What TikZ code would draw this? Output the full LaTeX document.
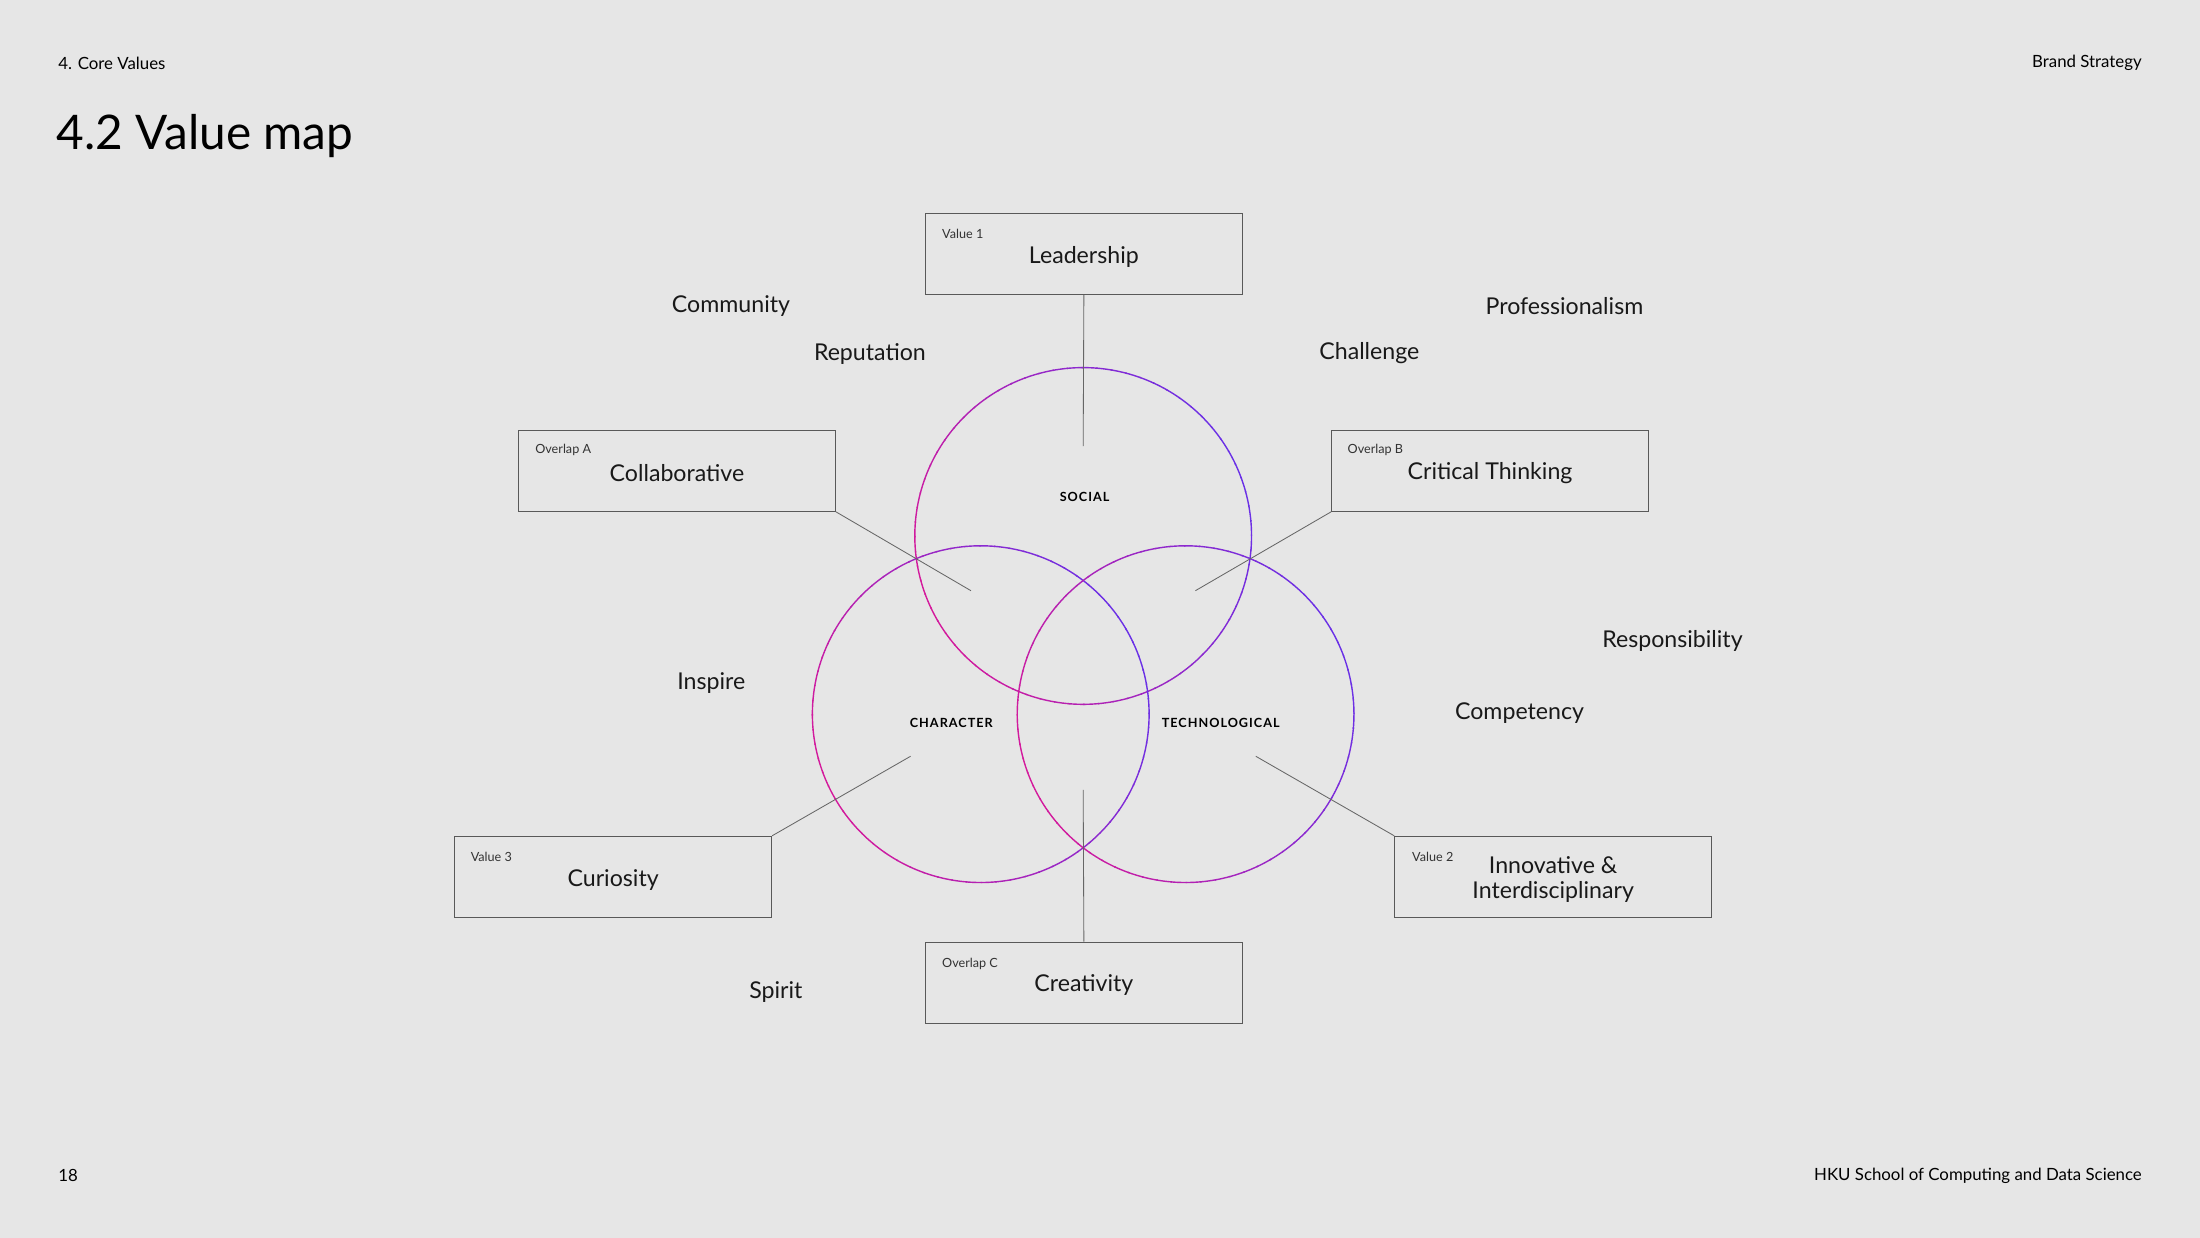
\documentclass[tikz,border=0pt]{standalone}
\usepackage{fontspec}
\setmainfont{Lato}
\begin{document}
\begin{tikzpicture}[x=1pt,y=-1pt,
  box/.style={draw=black!65,line width=0.6pt,minimum width=226pt,minimum height=58pt,inner sep=0},
  lbl/.style={font=\fontsize{16.5}{18}\selectfont,text=black!90},
  small/.style={font=\fontsize{9}{10}\selectfont,text=black!80,anchor=west},
  circlbl/.style={font=\fontsize{9}{10}\selectfont\bfseries\addfontfeature{LetterSpace=8},text=black},
  hf/.style={font=\fontsize{12}{13}\selectfont},
  conn/.style={draw=black!60,line width=0.6pt}]
\definecolor{mag}{HTML}{D41A9C}
\definecolor{pur}{HTML}{6A30E6}
\fill[fill={rgb,255:red,230;green,230;blue,230}] (0,0) rectangle (1568,882);
\useasboundingbox (0,0) rectangle (1568,882);
% header/footer
\node[hf,anchor=west] (h1) at (38,45) {4. Core Values};
\node[hf,anchor=east] (h2) at (1530,45) {Brand Strategy};
\node[anchor=west,font=\fontsize{34}{36}\selectfont] (ttl) at (37,97) {4.2 Value map};
\node[hf,anchor=west] (pg) at (38,838) {18};
\node[hf,anchor=east] (ft) at (1530,838) {HKU School of Computing and Data Science};
% circles
\foreach \cx/\cy in {772/382,699/509,845/509}{
  \foreach \a in {0,5,...,355}{
    \pgfmathsetmacro{\p}{50+50*cos(\a-200)}
    \draw[color=mag!\p!pur,line width=1pt] (\cx,\cy) ++(\a:120 and -120) arc[start angle=\a,end angle=\a+5.5,x radius=120,y radius=-120];
  }
}
\node[circlbl] (soc) at (773,354) {SOCIAL};
\node[circlbl] (chr) at (678,515) {CHARACTER};
\node[circlbl] (tec) at (870,515) {TECHNOLOGICAL};
% boxes
\node[box] (b1) at (772.5,181) {}; \node[small] at (668,167) {Value 1}; \node[lbl] at (772.5,183) {Leadership};
\node[box] (bA) at (482.5,335.5) {}; \node[small] at (378,321) {Overlap A}; \node[lbl] at (482.5,337) {Collaborative};
\node[box] (bB) at (1062,335.5) {}; \node[small] at (957,321) {Overlap B}; \node[lbl] at (1062,337) {Critical Thinking};
\node[box] (b3) at (437,625) {}; \node[small] at (332,611) {Value 3}; \node[lbl] at (437,627) {Curiosity};
\node[box] (b2) at (1107,625) {}; \node[small] at (1003,611) {Value 2}; \node[lbl,align=center] at (1107,627) {Innovative \&\\Interdisciplinary};
\node[box] (bC) at (772.5,700.5) {}; \node[small] at (668,687) {Overlap C}; \node[lbl] at (772.5,702) {Creativity};
% connectors
\coordinate (e1) at (772,318);
\coordinate (eA) at (692,421);
\coordinate (eB) at (852,421);
\coordinate (e3) at (649,539);
\coordinate (e2) at (895,539);
\coordinate (eC) at (772,563);
\draw[conn] (b1.south) -- (e1);
\draw[conn] (bA.south east) -- (eA);
\draw[conn] (bB.south west) -- (eB);
\draw[conn] (b3.north east) -- (e3);
\draw[conn] (b2.north west) -- (e2);
\draw[conn] (bC.north) -- (eC);
% free words
\node[lbl] at (521,218) {Community};
\node[lbl] at (620,252) {Reputation};
\node[lbl] at (1115,218) {Professionalism};
\node[lbl] at (976,252) {Challenge};
\node[lbl] at (1192,457) {Responsibility};
\node[lbl] at (1083,508) {Competency};
\node[lbl] at (507,487) {Inspire};
\node[lbl] at (553,707) {Spirit};
\end{tikzpicture}
\end{document}
